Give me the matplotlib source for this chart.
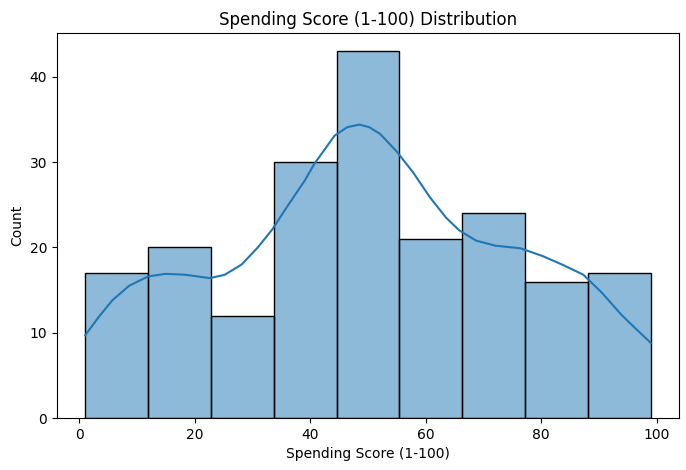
import matplotlib
matplotlib.use("Agg")
import matplotlib.pyplot as plt
import numpy as np

bin_edges = [1.0, 11.888, 22.777, 33.666, 44.555, 55.444, 66.333, 77.222, 88.111, 99.0]
counts = [17, 20, 12, 30, 43, 21, 24, 16, 17]

kde_x = [1.0, 3.4, 5.7, 8.6, 11.9, 14.9, 18.3, 22.6, 25.2, 28.1, 30.9, 33.4, 36.1,
         39.0, 40.7, 44.2, 46.4, 48.5, 50.2, 52.1, 54.9, 57.8, 60.7, 63.5, 65.8,
         68.7, 72.1, 76.4, 80.2, 83.6, 87.3, 90.5, 93.9, 96.5, 99.0]
kde_y = [9.7, 11.9, 13.8, 15.5, 16.6, 16.9, 16.8, 16.4, 16.8, 18.0, 20.0, 22.1, 24.9,
         27.8, 29.8, 33.1, 34.1, 34.4, 34.1, 33.3, 31.3, 28.8, 25.9, 23.5, 22.0,
         20.8, 20.2, 19.9, 19.0, 18.0, 16.8, 14.7, 12.1, 10.4, 8.8]

fig = plt.figure(figsize=(6.86, 4.70), dpi=100)
ax = fig.add_axes([0.083, 0.1106, 0.907, 0.8194])

widths = np.diff(bin_edges)
ax.bar(bin_edges[:-1], counts, width=widths, align="edge",
       facecolor=(0.1216, 0.4667, 0.7059, 0.5), edgecolor="black", linewidth=1.0)
ax.plot(kde_x, kde_y, color="#1f77b4", linewidth=1.5)

ax.set_xlim(-3.9, 103.9)
ax.set_ylim(0, 45.15)
ax.set_xticks([0, 20, 40, 60, 80, 100])
ax.set_yticks([0, 10, 20, 30, 40])
ax.set_title("Spending Score (1-100) Distribution")
ax.set_xlabel("Spending Score (1-100)")
ax.set_ylabel("Count")

fig.savefig("out.png", dpi=100)
